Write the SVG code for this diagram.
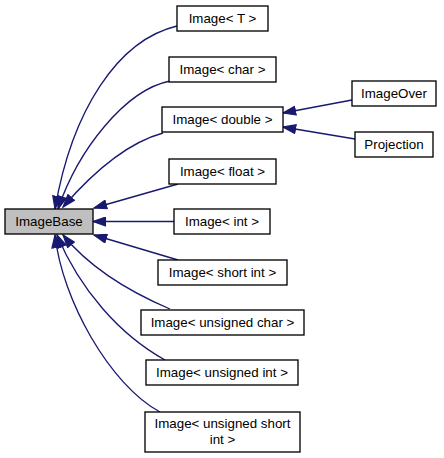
<svg xmlns="http://www.w3.org/2000/svg" width="444" height="458" viewBox="0 0 444 458">
<style>
.node rect{fill:#ffffff;stroke:#000000;stroke-width:1.33}
.node.base rect{fill:#bfbfbf}
.node text{font-family:"Liberation Sans",Arial,sans-serif;font-size:13.33px;fill:#000000;text-anchor:middle}
.edges path{fill:none;stroke:#191970;stroke-width:1.33;marker-end:url(#arr)}
</style>
<defs>
<marker id="arr" markerUnits="userSpaceOnUse" viewBox="0 0 14 10" refX="13.3" refY="5" markerWidth="14" markerHeight="10" orient="auto">
<path d="M0.7,0.6 L13.3,5 L0.7,9.4 Z" fill="#191970" stroke="#191970" stroke-width="1.2"/>
</marker>
</defs>
<rect width="444" height="458" fill="#ffffff"/>
<g class="edges">
<path d="M177,26 C118,40 72,110 55,209"/>
<path d="M170,81 C125,90 78,150 58,209"/>
<path d="M163,133 C130,142 95,170 63,207"/>
<path d="M178,184 L94,208"/>
<path d="M174,221.5 L93,221.5"/>
<path d="M178,260 L94,235"/>
<path d="M170,309 C130,292 90,268 63,235"/>
<path d="M165,360 C120,335 80,290 57,235"/>
<path d="M160,412 C110,385 62,300 55,235"/>
<path d="M352,100 L283,113"/>
<path d="M355,139 L283,127"/>
</g>
<g id="ImageBase" class="node base"><rect x="5" y="209" width="88" height="25"/><text x="49" y="226.2">ImageBase</text></g>
<g id="ImageT" class="node"><rect x="177" y="6" width="91" height="25"/><text x="222.5" y="23.2">Image&lt; T &gt;</text></g>
<g id="ImageChar" class="node"><rect x="169" y="57" width="107" height="25"/><text x="222.5" y="74.2">Image&lt; char &gt;</text></g>
<g id="ImageDouble" class="node"><rect x="162" y="107" width="121" height="25"/><text x="222.5" y="124.2">Image&lt; double &gt;</text></g>
<g id="ImageFloat" class="node"><rect x="169" y="159" width="107" height="25"/><text x="222.5" y="176.2">Image&lt; float &gt;</text></g>
<g id="ImageInt" class="node"><rect x="174" y="209" width="96" height="25"/><text x="222" y="226.2">Image&lt; int &gt;</text></g>
<g id="ImageShortInt" class="node"><rect x="158" y="260" width="129" height="25"/><text x="222.5" y="277.2">Image&lt; short int &gt;</text></g>
<g id="ImageUnsignedChar" class="node"><rect x="141" y="310" width="163" height="25"/><text x="222.5" y="327.2">Image&lt; unsigned char &gt;</text></g>
<g id="ImageUnsignedInt" class="node"><rect x="146" y="360" width="152" height="25"/><text x="222" y="377.2">Image&lt; unsigned int &gt;</text></g>
<g id="ImageUnsignedShortInt" class="node"><rect x="145" y="412" width="155" height="40"/><text x="222.5" y="428">Image&lt; unsigned short</text><text x="222.5" y="443.5">int &gt;</text></g>
<g id="ImageOver" class="node"><rect x="352" y="81" width="84" height="25"/><text x="394" y="98.2">ImageOver</text></g>
<g id="Projection" class="node"><rect x="355" y="132" width="78" height="25"/><text x="394" y="149.2">Projection</text></g>
</svg>
